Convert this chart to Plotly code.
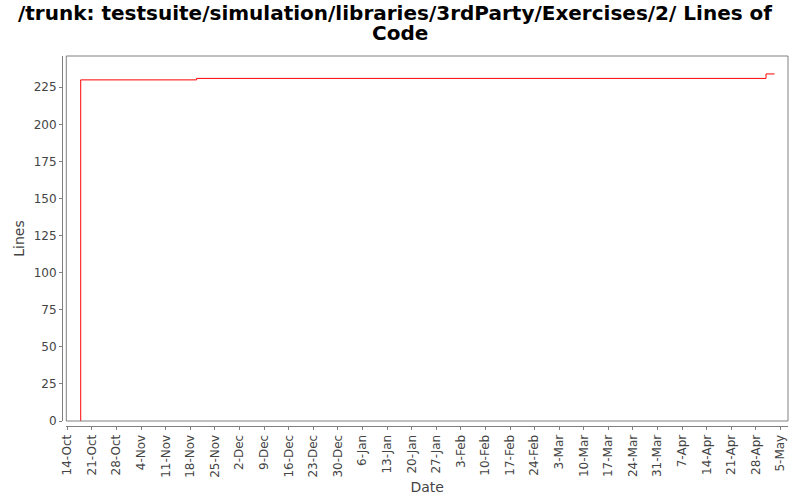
import plotly.graph_objects as go

# Data (step series: lines of code over time)
dates = ["2006-10-17 19:30", "2006-10-17 19:30", "2006-11-19 19:00", "2007-04-30 21:00", "2007-05-03 07:00"]
lines = [0, 230, 231, 234, 234]

title_line1 = "/trunk: testsuite/simulation/libraries/3rdParty/Exercises/2/ Lines of"
title_line2 = "Code"
x_range = ["2006-10-13 17:00", "2007-05-07 03:00"]
y_range = [0, 246.1]

fig = go.Figure()
fig.add_trace(go.Scatter(
    x=dates, y=lines, mode="lines", line=dict(color="#ff0000", width=1, shape="hv"),
    showlegend=False, hoverinfo="skip"
))

axis_grey = "#808080"
tick_font = dict(family="DejaVu Sans", size=12, color="#444444")
title_font = dict(family="DejaVu Sans", size=20, color="black", weight="bold")

fig.update_layout(
    width=800, height=500,
    paper_bgcolor="white", plot_bgcolor="white",
    margin=dict(l=62, r=11.7, t=56, b=74, pad=0, autoexpand=False),
    xaxis=dict(
        domain=[0.0059, 1], range=x_range, type="date", automargin=False,
        tick0="2006-10-14", dtick=7 * 24 * 3600 * 1000, tickformat="%-d-%b",
        tickangle=-90, tickfont=tick_font, ticks="outside", ticklen=3, tickcolor=axis_grey,
        showline=True, linecolor=axis_grey, linewidth=1, showgrid=False, zeroline=False,
        anchor="free", position=0,
        title=dict(text="Date", font=dict(family="DejaVu Sans", size=14, color="#444444"), standoff=5),
    ),
    yaxis=dict(
        domain=[0.0135, 1], range=y_range, automargin=False,
        tickvals=[0, 25, 50, 75, 100, 125, 150, 175, 200, 225],
        tickfont=tick_font, ticks="outside", ticklen=3, tickcolor=axis_grey,
        showline=True, linecolor=axis_grey, linewidth=1, showgrid=False, zeroline=False,
        anchor="free", position=0,
        title=dict(text="Lines", font=dict(family="DejaVu Sans", size=14, color="#444444"), standoff=4),
    ),
    shapes=[dict(type="rect", xref="x domain", yref="y domain", x0=0, x1=1, y0=0, y1=1,
                 line=dict(color=axis_grey, width=1), fillcolor="rgba(0,0,0,0)", layer="above")],
    annotations=[
        dict(text=title_line1, xref="paper", yref="paper", x=0.4592, y=1.154,
             xanchor="center", yanchor="top", showarrow=False, font=title_font),
        dict(text=title_line2, xref="paper", yref="paper", x=0.4654, y=1.100,
             xanchor="center", yanchor="top", showarrow=False, font=title_font),
    ],
)

fig.write_html("out.html", config={"displayModeBar": False},
               post_script="document.body.style.margin='0';document.body.style.overflow='hidden';")
